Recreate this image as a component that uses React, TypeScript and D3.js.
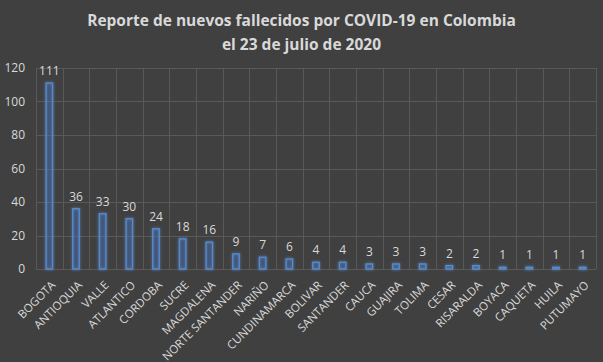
import * as d3 from "d3";
import { useEffect, useRef } from "react";

const departments = [
  "BOGOTA", "ANTIOQUIA", "VALLE", "ATLANTICO", "CORDOBA", "SUCRE", "MAGDALENA",
  "NORTE SANTANDER", "NARIÑO", "CUNDINAMARCA", "BOLIVAR", "SANTANDER", "CAUCA",
  "GUAJIRA", "TOLIMA", "CESAR", "RISARALDA", "BOYACA", "CAQUETA", "HUILA", "PUTUMAYO",
];
const deaths = [111, 36, 33, 30, 24, 18, 16, 9, 7, 6, 4, 4, 3, 3, 3, 2, 2, 1, 1, 1, 1];
const yTicks = [0, 20, 40, 60, 80, 100, 120];
const titleLines = ["Reporte de nuevos fallecidos por COVID-19 en Colombia", "el 23 de julio de 2020"];

const width = 603;
const height = 362;

export default function App() {
  const ref = useRef<SVGSVGElement>(null);

  useEffect(() => {
    if (!ref.current) return;
    const svg = d3.select(ref.current);
    svg.selectAll("*").remove();

    const margin = { top: 68, right: 7, bottom: 93, left: 36 };
    const w = width - margin.left - margin.right;
    const h = height - margin.top - margin.bottom;
    const font = "'Open Sans', 'Liberation Sans', sans-serif";
    const textColor = "#d9d9d9";

    svg.append("rect").attr("width", width).attr("height", height).attr("fill", "#404040");

    const defs = svg.append("defs");
    const glow = defs.append("filter").attr("id", "glow").attr("x", "-100%").attr("y", "-20%").attr("width", "300%").attr("height", "140%");
    glow.append("feGaussianBlur").attr("in", "SourceGraphic").attr("stdDeviation", 1.8).attr("result", "blur");
    const merge = glow.append("feMerge");
    merge.append("feMergeNode").attr("in", "blur");
    merge.append("feMergeNode").attr("in", "SourceGraphic");

    svg.append("g")
      .selectAll("text")
      .data(titleLines)
      .join("text")
      .attr("x", width / 2)
      .attr("y", (_d, i) => 26 + i * 24)
      .attr("text-anchor", "middle")
      .style("font-family", font)
      .style("font-weight", "bold")
      .style("font-size", "15.5px")
      .style("fill", textColor)
      .text((d) => d);

    const g = svg.append("g").attr("transform", `translate(${margin.left},${margin.top})`);

    // inner padding p with outer p/2 keeps step = w / n, bars centred in their grid cells
    const x = d3.scaleBand<string>().domain(departments).range([0, w]).paddingInner(0.72).paddingOuter(0.36);
    const y = d3.scaleLinear().domain([0, 120]).range([h, 0]);

    const gridColor = "#595959";
    g.append("g")
      .selectAll("line")
      .data(yTicks)
      .join("line")
      .attr("x1", 0)
      .attr("x2", w)
      .attr("y1", (d) => Math.round(y(d)) + 0.5)
      .attr("y2", (d) => Math.round(y(d)) + 0.5)
      .attr("stroke", gridColor);

    const step = w / departments.length;
    g.append("g")
      .selectAll("line")
      .data(d3.range(departments.length + 1))
      .join("line")
      .attr("x1", (i) => Math.round(i * step) + 0.5)
      .attr("x2", (i) => Math.round(i * step) + 0.5)
      .attr("y1", 0)
      .attr("y2", h)
      .attr("stroke", gridColor);

    g.append("g")
      .selectAll("text")
      .data(yTicks)
      .join("text")
      .attr("x", -11)
      .attr("y", (d) => y(d))
      .attr("dy", "0.35em")
      .attr("text-anchor", "end")
      .style("font-family", font)
      .style("font-size", "12px")
      .style("fill", textColor)
      .text((d) => d);

    const data = departments.map((name, i) => ({ name, value: deaths[i] }));

    g.append("g")
      .attr("filter", "url(#glow)")
      .selectAll("rect")
      .data(data)
      .join("rect")
      .attr("x", (d) => (x(d.name) ?? 0) + 0.5)
      .attr("y", (d) => y(d.value))
      .attr("width", x.bandwidth() - 1)
      .attr("height", (d) => h - y(d.value))
      .attr("fill", "rgba(68,114,196,0.22)")
      .attr("stroke", "#5a8ccc")
      .attr("stroke-width", 1.3);

    g.append("g")
      .selectAll("text")
      .data(data)
      .join("text")
      .attr("x", (d) => (x(d.name) ?? 0) + x.bandwidth() / 2)
      .attr("y", (d) => y(d.value) - 8)
      .attr("text-anchor", "middle")
      .style("font-family", font)
      .style("font-size", "12px")
      .style("fill", textColor)
      .text((d) => d.value);

    g.append("g")
      .selectAll("text")
      .data(data)
      .join("text")
      .attr("transform", (d) => `translate(${(x(d.name) ?? 0) + x.bandwidth() / 2 + 4},${h + 14}) rotate(-45)`)
      .attr("text-anchor", "end")
      .attr("dy", "0.35em")
      .style("font-family", font)
      .style("font-size", "11.5px")
      .style("fill", textColor)
      .text((d) => d.name);
  }, []);

  return (
    <div style={{ position: "absolute", left: 0, top: 0 }}>
      <svg ref={ref} width={width} height={height} style={{ display: "block" }} />
    </div>
  );
}
